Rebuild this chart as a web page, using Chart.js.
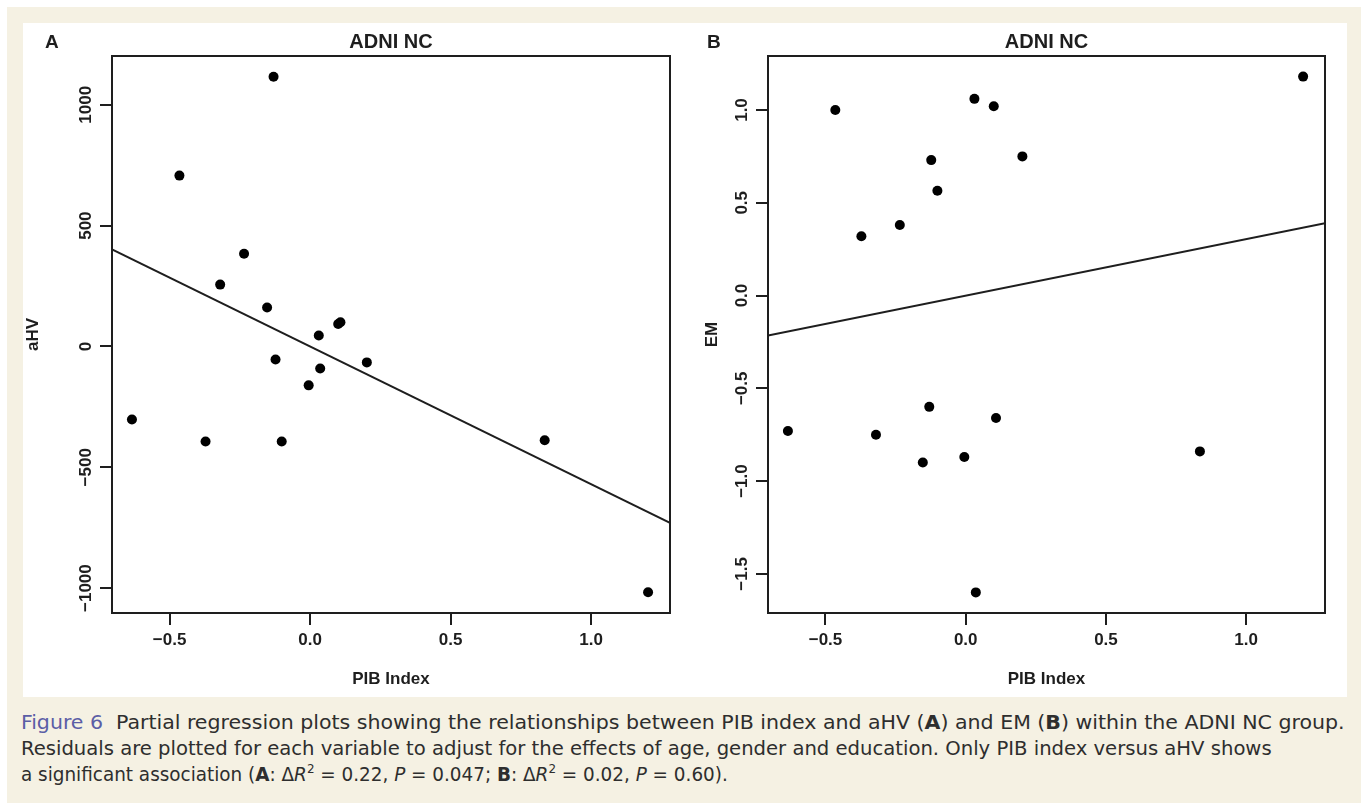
<!DOCTYPE html>
<html>
<head>
<meta charset="utf-8">
<script src="https://cdn.jsdelivr.net/npm/chart.js@4.4.1/dist/chart.umd.min.js"></script>
<style>
body { margin: 0; width: 1361px; height: 803px; overflow: hidden; position: relative; background: #fff; }
#fig { position: absolute; left: 7px; top: 7px; width: 1354px; height: 796px; background: #f5f1e3; }
#panel { position: absolute; left: 16px; top: 16px; width: 1324px; height: 674px; background: #fff; }
.plot { position: absolute; top: 0; height: 674px; }
#wrapA { left: 0; width: 667px; }
#wrapB { left: 667px; width: 657px; }
.cap { position: absolute; left: 14px; white-space: nowrap; font-size: 20px; line-height: 26px; color: #2e2e2e;
       font-family: "Liberation Sans Narrow", "DejaVu Sans Condensed", "Roboto Condensed", "Liberation Sans", sans-serif;
       font-stretch: condensed; transform-origin: 0 50%; }
.cap .fig6 { color: #5b5ea6; }
.cap sup { font-size: 13px; line-height: 0; vertical-align: 8px; }
</style>
</head>
<body>
<div id="fig">
  <div id="panel">
    <div class="plot" id="wrapA"><canvas id="chartA"></canvas></div>
    <div class="plot" id="wrapB"><canvas id="chartB"></canvas></div>
  </div>
  <div class="cap" id="cap1" data-w="1324" style="top:702px"><span class="fig6">Figure 6</span>&nbsp; Partial regression plots showing the relationships between PIB index and aHV (<b>A</b>) and EM (<b>B</b>) within the ADNI NC group.</div>
  <div class="cap" id="cap2" data-w="1251" style="top:728px">Residuals are plotted for each variable to adjust for the effects of age, gender and education. Only PIB index versus aHV shows</div>
  <div class="cap" id="cap3" data-w="707" style="top:754px">a significant association (<b>A</b>: Δ<i>R</i><sup>2</sup> = 0.22, <i>P</i> = 0.047; <b>B</b>: Δ<i>R</i><sup>2</sup> = 0.02, <i>P</i> = 0.60).</div>
</div>
<script>
// residuals (same PIB index values in both panels)
const pibIndex = [-0.634, -0.465, -0.372, -0.32, -0.235, -0.153, -0.13, -0.123, -0.101, -0.005, 0.031, 0.036, 0.1, 0.108, 0.202, 0.835, 1.203];
const aHV = [-302, 707, -393, 256, 384, 161, 1116, -54, -393, -161, 45, -91, 93, 100, -66, -388, -1017];
const EM = [-0.73, 1.0, 0.32, -0.75, 0.38, -0.9, -0.6, 0.73, 0.565, -0.87, 1.06, -1.6, 1.02, -0.66, 0.75, -0.84, 1.18];

// regression lines, end points at the plot edges
const fitX = [-0.705, 1.281];
const fitA = [402, -730];
const fitB = [-0.215, 0.39];

// axis ranges and tick values
const xRange = [-0.705, 1.281];
const aHVRange = [-1103, 1202];
const EMRange = [-1.711, 1.291];
const xTicks = [-0.5, 0, 0.5, 1.0];
const aHVTicks = [-1000, -500, 0, 500, 1000];
const EMTicks = [-1.5, -1.0, -0.5, 0, 0.5, 1.0];

const FONT = '"Liberation Sans", Arial, Helvetica, sans-serif';
const INK = '#1e1e1e';

function fmt(v, d) {
    return (v < 0 ? '\u2212' : '') + Math.abs(v).toFixed(d);
}

// R style box, rotated y tick labels, panel letter and title
const rFrame = {
    id: 'rFrame',
    afterDatasetsDraw(chart, args, opts) {
        const ctx = chart.ctx;
        const a = chart.chartArea;
        ctx.save();
        ctx.strokeStyle = INK;
        ctx.lineWidth = 2;
        ctx.strokeRect(a.left, a.top, a.right - a.left, a.bottom - a.top);

        const ys = chart.scales.y;
        ctx.fillStyle = INK;
        ctx.font = 'bold 17px ' + FONT;
        ctx.textAlign = 'center';
        ctx.textBaseline = 'middle';
        ys.ticks.forEach(t => {
            const py = ys.getPixelForValue(t.value);
            ctx.save();
            ctx.translate(ys.right - 26, py);
            ctx.rotate(-Math.PI / 2);
            ctx.fillText(fmt(t.value, opts.decimals), 0, 0);
            ctx.restore();
        });

        ctx.font = 'bold 20px ' + FONT;
        ctx.fillText(opts.title, (a.left + a.right) / 2, 19);
        ctx.font = 'bold 19px ' + FONT;
        ctx.textAlign = 'left';
        ctx.fillText(opts.letter, opts.letterX, 20);
        ctx.restore();
    }
};

function makePanel(id, yVals, yRange, yTickVals, fitY, cfg) {
    const points = pibIndex.map((x, i) => ({ x: x, y: yVals[i] }));
    const line = fitX.map((x, i) => ({ x: x, y: fitY[i] }));
    return new Chart(document.getElementById(id), {
        type: 'scatter',
        data: {
            datasets: [{
                data: points,
                pointRadius: 5,
                pointHoverRadius: 5,
                pointBorderWidth: 0,
                backgroundColor: '#000',
                borderColor: '#000'
            }, {
                data: line,
                showLine: true,
                pointRadius: 0,
                borderColor: INK,
                borderWidth: 2
            }]
        },
        options: {
            responsive: true,
            maintainAspectRatio: false,
            animation: false,
            layout: { padding: { top: 33, right: cfg.rightPad, left: 0, bottom: 0 } },
            plugins: {
                legend: { display: false },
                tooltip: { enabled: false },
                rFrame: { title: 'ADNI NC', letter: cfg.letter, letterX: cfg.letterX, decimals: cfg.decimals }
            },
            scales: {
                x: {
                    type: 'linear',
                    min: xRange[0],
                    max: xRange[1],
                    afterBuildTicks: s => { s.ticks = xTicks.map(v => ({ value: v })); },
                    afterFit: s => { s.height = 84; },
                    ticks: {
                        padding: 5,
                        autoSkip: false,
                        color: INK,
                        font: { family: FONT, size: 17, weight: 'bold' },
                        callback: v => fmt(v, 1)
                    },
                    grid: { drawOnChartArea: false, drawTicks: true, tickLength: 12, color: INK, lineWidth: 2 },
                    border: { display: false },
                    title: {
                        display: true,
                        text: 'PIB Index',
                        color: INK,
                        font: { family: FONT, size: 17, weight: 'bold' },
                        padding: { top: 0, bottom: 7 }
                    }
                },
                y: {
                    type: 'linear',
                    min: yRange[0],
                    max: yRange[1],
                    afterBuildTicks: s => { s.ticks = yTickVals.map(v => ({ value: v })); },
                    afterFit: s => { s.width = cfg.yWidth; },
                    ticks: { display: false },
                    grid: { drawOnChartArea: false, drawTicks: true, tickLength: 12, color: INK, lineWidth: 2 },
                    border: { display: false },
                    title: {
                        display: true,
                        text: cfg.yTitle,
                        color: INK,
                        font: { family: FONT, size: 17, weight: 'bold' },
                        padding: { top: cfg.yTitlePad, bottom: 0 }
                    }
                }
            }
        },
        plugins: [rFrame]
    });
}

makePanel('chartA', aHV, aHVRange, aHVTicks, fitA,
    { letter: 'A', letterX: 22, yTitle: 'aHV', yWidth: 89, rightPad: 20, yTitlePad: 0, decimals: 0 });
makePanel('chartB', EM, EMRange, EMTicks, fitB,
    { letter: 'B', letterX: 17, yTitle: 'EM', yWidth: 78, rightPad: 22, yTitlePad: 12, decimals: 1 });

// stretch caption lines to the widths they have in the printed figure
document.querySelectorAll('.cap').forEach(el => {
    const w = el.offsetWidth;
    el.style.transform = 'scaleX(' + (Number(el.dataset.w) / w) + ')';
});
</script>
</body>
</html>
